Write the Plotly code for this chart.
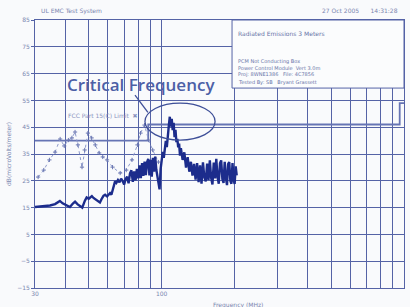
import math
import plotly.graph_objects as go

# ---------------- data ----------------
main_freq = [30, 31.5, 33, 34.6, 36.3, 37.3, 38, 39, 40, 41, 41.8, 43, 43.9, 45, 46, 47, 48.2, 49, 50, 50.6,
             51.5, 52.3, 53.1, 54, 55, 55.6, 56.5, 57.5, 58.4, 59.5, 60.5, 61.2, 62, 62.8, 63.5, 64.2, 65, 66, 67, 68,
             69, 70, 71, 72, 73, 74, 75, 76, 77, 78, 79, 80, 81, 82, 83, 84, 85, 86, 87, 88,
             89, 90, 91, 92, 93, 94, 95, 96, 97, 98, 99, 100, 101, 102, 103, 104, 105, 106, 107, 108,
             109, 110, 111, 112, 113, 114, 115, 116, 117, 118, 119, 120, 122, 124, 126, 128, 130, 132, 134, 136,
             138, 140, 142, 144, 146, 148, 150, 152, 154, 156, 158, 160, 162, 164, 166, 168, 170, 172, 174, 176,
             178, 180, 182, 184, 186, 188, 190, 192, 194, 196, 198, 200, 202, 204]
main_db = [15.2, 15.4, 15.5, 15.8, 16.3, 16.9, 17.5, 16.6, 16.0, 15.5, 15.2, 16.5, 17.2, 16.2, 15.5, 15.0, 17.6, 18.8, 18.3, 18.7,
           19.3, 18.6, 18.2, 17.5, 17.0, 16.9, 18.2, 19.4, 19.8, 19.2, 19.9, 20.4, 19.8, 21.5, 23.8, 24.8, 24.2, 25.3, 24.4, 25.8,
           24.9, 23.6, 25.7, 26.5, 24.1, 27.8, 28.9, 24.6, 28.5, 25.2, 29.4, 25.9, 30.8, 26.0, 31.6, 26.8, 32.2, 27.1, 31.9, 33.2,
           27.0, 32.8, 26.5, 33.6, 28.4, 34.0, 29.2, 27.0, 24.5, 21.8, 29.5, 33.5, 35.8, 33.6, 38.2, 39.9, 37.6, 42.8, 45.6, 48.9,
           45.2, 48.1, 43.9, 46.6, 41.3, 44.0, 39.4, 40.6, 37.5, 38.9, 34.4, 37.2, 32.8, 35.6, 29.9, 33.8, 28.4, 32.1, 26.9, 31.3,
           25.4, 31.6, 24.5, 30.8, 23.9, 31.9, 26.2, 24.8, 31.4, 25.3, 32.6, 26.1, 23.6, 31.8, 25.9, 33.2, 26.4, 23.9, 31.5, 32.6,
           25.7, 24.2, 32.1, 26.3, 23.4, 31.2, 32.0, 25.0, 23.9, 31.6, 25.5, 23.8, 30.4, 27.0]

qp_freq = [30.9, 32.6, 34.4, 36.3, 38.1, 39.6, 41.2, 42.6, 43.9, 45.1, 46.9, 48.1, 49.6, 51.4, 53.2, 55.2, 57.1, 59.5,
           62.7, 67.4, 71.4, 75.4, 79.4, 81.8, 84.9, 88.3, 91.8, 96.9]
qp_db = [26.4, 29.0, 32.8, 35.7, 40.6, 38.0, 40.2, 41.0, 43.2, 38.4, 30.1, 36.5, 42.8, 41.0, 38.4, 35.4, 33.9, 32.8,
         30.1, 27.9, 29.0, 32.8, 38.4, 42.8, 45.8, 40.2, 36.5, 32.0]

limit_freq = [30, 88, 88, 216, 216, 960, 960, 1000]
limit_db = [40, 40, 46, 46, 46, 46, 54, 54]

x_ticks = [30, 40, 50, 60, 70, 80, 90, 100, 200, 300, 400, 500, 600, 700, 800, 900, 1000]
x_tick_text = ["30", "", "", "", "", "", "", "100", "", "", "", "", "", "", "", "", "1000"]
y_ticks = [-15, -5, 5, 15, 25, 35, 45, 55, 65, 75, 85]

info_lines = ["Radiated Emissions 3 Meters", "", "PCM Not Conducting Box",
              "Power Control Module  Vert 3.0m", "Proj: 8WNE1386   File: 4C7856",
              "Tested By: SB   Bryant Grassett"]

GRID = "#5563a6"
TXT = "#7a86b0"

fig = go.Figure()
fig.add_trace(go.Scatter(x=limit_freq, y=limit_db, mode="lines",
                         line=dict(color="#6674b4", width=1.8), hoverinfo="skip"))
fig.add_trace(go.Scatter(x=qp_freq, y=qp_db, mode="lines+markers",
                         line=dict(color="#8e9acb", width=1, dash="dot"),
                         marker=dict(symbol="cross-thin", size=3, line=dict(color="#6a77b2", width=1))))
fig.add_trace(go.Scatter(x=main_freq, y=main_db, mode="lines",
                         line=dict(color="#1c2c8c", width=2.4)))

fig.update_layout(
    width=410, height=307,
    margin=dict(l=35, r=6, t=20, b=19, autoexpand=False),
    paper_bgcolor="#f9fafc", plot_bgcolor="#f9fafc",
    showlegend=False,
    font=dict(family="DejaVu Sans", size=6, color=TXT),
)
fig.update_xaxes(type="log", range=[math.log10(30), math.log10(1000)],
                 tickvals=x_ticks, ticktext=x_tick_text,
                 showgrid=True, gridcolor=GRID, gridwidth=1,
                 showline=True, linecolor=GRID, linewidth=1, mirror=True,
                 ticks="", tickfont=dict(size=6, color=TXT), zeroline=False)
fig.update_yaxes(range=[-15, 85], tickvals=y_ticks,
                 showgrid=True, gridcolor=GRID, gridwidth=1,
                 showline=True, linecolor=GRID, linewidth=1, mirror=True,
                 ticks="outside", ticklen=3, tickcolor=GRID,
                 tickfont=dict(size=6, color=TXT), zeroline=False,
                 title=dict(text="dB(microVolts/meter)", font=dict(size=6, color=TXT), standoff=5))

# info box
fig.add_shape(type="rect", xref="paper", yref="paper", x0=0.534, x1=1.0, y0=0.746, y1=1.0,
              fillcolor="#fbfcfd", line=dict(color=GRID, width=1), layer="above")
ys = [0.95, 0.90, 0.845, 0.82, 0.795, 0.768]
for t, yy in zip(info_lines, ys):
    if t:
        fig.add_annotation(text=t, xref="paper", yref="paper", x=0.545, y=yy, xanchor="left",
                           yanchor="middle", showarrow=False,
                           font=dict(size=6 if t.startswith("Radiated") else 5, color="#6874a8"))

# header texts
fig.add_annotation(text="UL EMC Test System", xref="paper", yref="paper", x=0.01, y=1.035,
                   xanchor="left", yanchor="middle", showarrow=False, font=dict(size=6, color=TXT))
fig.add_annotation(text="27 Oct 2005      14:31:28", xref="paper", yref="paper", x=0.99, y=1.035,
                   xanchor="right", yanchor="middle", showarrow=False, font=dict(size=6, color=TXT))
fig.add_annotation(text="Frequency (MHz)", xref="paper", yref="paper", x=0.55, y=-0.04,
                   xanchor="center", yanchor="top", showarrow=False, font=dict(size=6, color=TXT))

# critical frequency callout
fig.add_annotation(text="Critical Frequency", xref="paper", yref="paper", x=0.287, y=0.76,
                   xanchor="center", yanchor="middle", showarrow=False,
                   font=dict(family="Open Sans", size=17, color="#4c5fa6", weight=600))
fig.add_annotation(text="FCC Part 15(C) Limit  \u2716", xref="paper", yref="paper", x=0.085, y=0.645,
                   xanchor="left", yanchor="middle", showarrow=False, font=dict(size=6, color="#8a94c0"))
fig.add_shape(type="circle", xref="paper", yref="paper", x0=0.298, x1=0.488, y0=0.552, y1=0.690,
              line=dict(color="#3e4f98", width=1.3))
fig.add_shape(type="line", xref="paper", yref="paper", x0=0.271, y0=0.72, x1=0.306, y1=0.655,
              line=dict(color="#3e4f98", width=1.3))

fig.write_html("out.html", config={"displayModeBar": False},
               post_script="document.body.style.margin='0';document.body.style.padding='0';")
